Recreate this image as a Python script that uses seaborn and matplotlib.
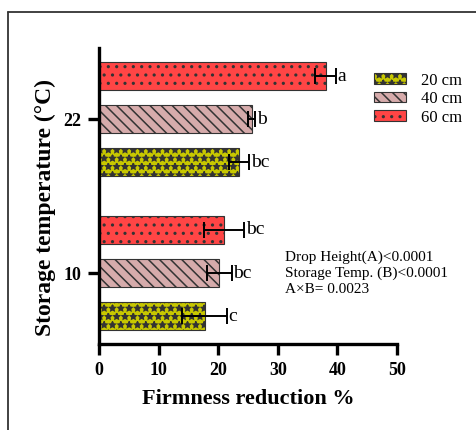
import matplotlib
matplotlib.use('Agg')
import matplotlib.pyplot as plt
import pandas as pd
import seaborn as sns
from matplotlib.patches import Patch
from matplotlib.lines import Line2D

# Data
temps = ['10', '22']
heights = ['20 cm', '40 cm', '60 cm']
means_10 = [17.7, 20.2, 21.0]
means_22 = [23.5, 25.6, 38.0]
errs_10 = [3.7, 2.1, 3.4]
errs_22 = [1.7, 0.6, 1.7]
letters_10 = ['c', 'bc', 'bc']
letters_22 = ['bc', 'b', 'a']

colors = ['#c8c800', '#d6abab', '#ff4545']
hatches = ['**', '\\\\\\', '..']

df = pd.DataFrame({
    'temp': ['10'] * 3 + ['22'] * 3,
    'height': heights * 2,
    'value': means_10 + means_22,
})

sns.set_style('ticks')
plt.rcParams['font.family'] = ['Liberation Serif', 'DejaVu Serif']
plt.rcParams['hatch.linewidth'] = 1.1
plt.rcParams['text.color'] = 'black'
plt.rcParams['xtick.color'] = 'black'
plt.rcParams['ytick.color'] = 'black'
plt.rcParams['axes.labelcolor'] = 'black'

fig = plt.figure(figsize=(4.77, 4.30), dpi=100)
ax = fig.add_axes([0.2075, 0.2, 0.625, 0.688])

sns.barplot(data=df, y='temp', x='value', hue='height', order=temps,
            hue_order=heights, palette=colors, saturation=1, orient='h',
            width=0.84, gap=0.36, edgecolor='#333333', linewidth=0.8,
            legend=False, ax=ax)

# undo the categorical inversion so 10 sits at the bottom
ax.set_ylim(-0.461, 1.461)
ax.set_xlim(0, 50)

errs = {'10': errs_10, '22': errs_22}
letters = {'10': letters_10, '22': letters_22}
bar_conts = list(ax.containers)
for h_i, cont in enumerate(bar_conts):
    for t_i, bar in enumerate(cont):
        bar.set_hatch(hatches[h_i])
        t = temps[t_i]
        w = bar.get_width()
        yc = bar.get_y() + bar.get_height() / 2
        e = errs[t][h_i]
        ax.errorbar(w, yc, xerr=e, fmt='none', ecolor='black', elinewidth=1.4,
                    capsize=6, capthick=1.4)
        ax.text(w + e + 0.25, yc, letters[t][h_i], va='center', ha='left',
                fontsize=14)

sns.despine(ax=ax)
ax.spines['left'].set_linewidth(2.4)
ax.spines['bottom'].set_linewidth(2.4)
ax.spines['left'].set_color('black')
ax.spines['bottom'].set_color('black')
ax.set_xticks([0, 10, 20, 30, 40, 50])
ax.tick_params(width=2.4, length=8, labelsize=13, pad=5)
for lab in ax.get_xticklabels() + ax.get_yticklabels():
    lab.set_fontweight('bold')

ax.set_xlabel('Firmness reduction %', fontsize=16, fontweight='bold', labelpad=7)
ax.set_ylabel('Storage temperature (°C)', fontsize=17, fontweight='bold')
ax.yaxis.set_label_coords(-0.145, 0.46)

handles = [Patch(facecolor=c, edgecolor='#333333', linewidth=0.8, hatch=h, label=l)
           for c, h, l in zip(colors, hatches, heights)]
ax.legend(handles=handles, loc='upper left', bbox_to_anchor=(0.9, 0.94),
          frameon=False, fontsize=12, handlelength=1.9, handleheight=0.6,
          labelspacing=0.15, handletextpad=0.9, borderaxespad=0)

ax.text(0.625, 0.315, 'Drop Height(A)<0.0001\nStorage Temp. (B)<0.0001\nA×B= 0.0023',
        transform=ax.transAxes, fontsize=11, va='top', ha='left', linespacing=1.25)

# frame round the figure (only top and left edges visible)
x0, y0 = 8 / 477, 1 - 12 / 430
fig.add_artist(Line2D([x0, x0], [0, y0], transform=fig.transFigure,
                      color='#333333', lw=1.3))
fig.add_artist(Line2D([x0, 1], [y0, y0], transform=fig.transFigure,
                      color='#333333', lw=1.3))

fig.savefig('out.png', dpi=100)
